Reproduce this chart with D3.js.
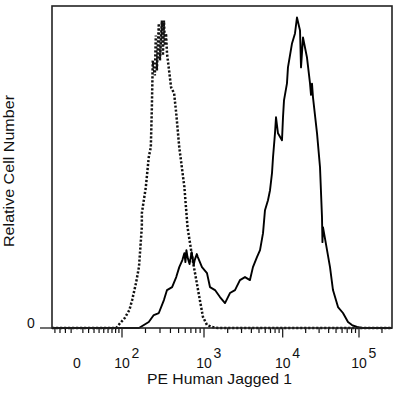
<!DOCTYPE html>
<html lang="en">
<head>
<meta charset="UTF-8">
<title>PE Human Jagged 1</title>
<script src="https://d3js.org/d3.v7.min.js"></script>
<style>
  body { margin: 0; background: #fff; }
  text { font-family: "Liberation Sans", Arial, sans-serif; fill: #111; }
</style>
</head>
<body>
<div id="chart"></div>
<script>
const width = 396, height = 396;

// isotype control (dotted): log10 intensity, relative count (%)
const isoExp = [1.912, 1.974, 2.037, 2.098, 2.134, 2.183, 2.220, 2.256, 2.256, 2.305, 2.341, 2.366, 2.378, 2.390,
  2.415, 2.427, 2.439, 2.463, 2.476, 2.500, 2.512, 2.524, 2.537, 2.549, 2.561, 2.610, 2.646, 2.671,
  2.707, 2.768, 2.805, 2.829, 2.866, 2.915, 2.951, 2.988, 3.038, 3.102, 3.178];
const isoCount = [0, 1.55, 3.11, 5.59, 8.70, 13.98, 18.94, 31.37, 35.71, 43.79, 53.11, 56.21, 67.70, 83.23,
  78.57, 90.99, 80.12, 94.72, 83.23, 95.65, 84.78, 95.65, 87.89, 91.61, 85.40, 74.84, 72.98, 66.77,
  56.21, 43.79, 31.37, 27.33, 21.12, 13.98, 8.70, 3.42, 0.93, 0.31, 0];

// Jagged 1 stained cells (solid)
const stainExp = [2.220, 2.341, 2.402, 2.463, 2.524, 2.561, 2.622, 2.671, 2.707, 2.744, 2.768, 2.780, 2.792,
  2.805, 2.829, 2.854, 2.878, 2.890, 2.915, 2.927, 2.976, 3.038, 3.076, 3.140, 3.203, 3.267, 3.330,
  3.394, 3.457, 3.521, 3.584, 3.622, 3.673, 3.712, 3.750, 3.775, 3.813, 3.839, 3.864, 3.877, 3.902,
  3.915, 3.940, 3.991, 4.004, 4.017, 4.056, 4.069, 4.122, 4.161, 4.187, 4.227, 4.240, 4.266, 4.318,
  4.358, 4.371, 4.384, 4.397, 4.450, 4.489, 4.515, 4.521, 4.528, 4.581, 4.620, 4.659, 4.725, 4.790,
  4.856, 4.908, 4.974, 5.04];
const stainCount = [0, 1.86, 4.04, 4.66, 8.70, 11.80, 12.73, 15.84, 18.94, 21.12, 23.29, 20.50, 24.22,
  22.05, 19.90, 23.60, 19.60, 21.12, 23.00, 22.05, 18.94, 17.08, 12.73, 11.80, 9.63, 7.76, 10.87,
  11.80, 14.91, 15.84, 14.91, 18.94, 22.05, 24.22, 29.50, 36.65, 39.75, 42.86, 48.14, 53.11, 60.56,
  65.53, 60.56, 58.39, 65.53, 70.81, 76.09, 81.06, 88.51, 91.61, 96.58, 92.55, 81.06, 90.37, 84.16,
  76.09, 72.50, 76.00, 71.74, 60.56, 50.00, 34.47, 26.70, 31.37, 24.22, 18.94, 11.80, 6.52, 4.66,
  1.86, 0.93, 0.31, 0];

const xTickVals = [0, 1e2, 1e3, 1e4, 1e5];
const xTickExp = [null, 2, 3, 4, 5];

const plot = {left: 52, right: 392, top: 6, bottom: 328};

// biexponential-like display: arcsinh transform, placed per decade
const cof = 58;
const T = v => Math.asinh(v / cof);
const x = d3.scaleLinear()
  .domain(xTickVals.map(T))
  .range([77, 122, 204, 282.7, 359]);
const xv = v => x(T(v));

const y = d3.scaleLinear().domain([0, 100]).range([plot.bottom, plot.top + 0.5]);

const svg = d3.select("#chart").append("svg")
  .attr("width", width).attr("height", height);

svg.append("rect").attr("width", width).attr("height", height).attr("fill", "#fff");

const xMin = x.invert(plot.left), xMax = x.invert(plot.right);
const vMin = cof * Math.sinh(xMin), vMax = cof * Math.sinh(xMax);

function series(expArr, cnt) {
  const pts = [[vMin, 0]];
  expArr.forEach((e, i) => pts.push([Math.pow(10, e), cnt[i]]));
  pts.push([vMax, 0]);
  return pts;
}

const line = d3.line().x(d => xv(d[0])).y(d => y(d[1]));

// minor / major ticks under the axis
const minor = [];
for (let k = 10; k < 100; k += 10) { minor.push(k); minor.push(-k); }
[100, 1000, 10000, 100000].forEach(dec => {
  for (let m = 2; m <= 9; m++) minor.push(dec * m);
});
const tickG = svg.append("g").attr("stroke", "#111").attr("stroke-width", 1.2);
tickG.selectAll(".minor")
  .data(minor.filter(v => xv(v) > plot.left + 1 && xv(v) < plot.right - 1))
  .join("line")
  .attr("x1", d => xv(d)).attr("x2", d => xv(d))
  .attr("y1", plot.bottom).attr("y2", plot.bottom + 5);
tickG.selectAll(".major")
  .data(xTickVals.slice(1))
  .join("line")
  .attr("x1", d => xv(d)).attr("x2", d => xv(d))
  .attr("y1", plot.bottom).attr("y2", plot.bottom + 9.5);
tickG.append("line")
  .attr("x1", plot.left - 12).attr("x2", plot.left)
  .attr("y1", y(0)).attr("y2", y(0));

// curves
svg.append("path")
  .datum(series(isoExp, isoCount))
  .attr("d", line)
  .attr("fill", "none")
  .attr("stroke", "#111")
  .attr("stroke-width", 2.5)
  .attr("stroke-dasharray", "2.2,1.8");

svg.append("path")
  .datum(series(stainExp, stainCount))
  .attr("d", line)
  .attr("fill", "none")
  .attr("stroke", "#000")
  .attr("stroke-width", 1.9)
  .attr("stroke-linejoin", "round");

// frame
svg.append("rect")
  .attr("x", plot.left).attr("y", plot.top)
  .attr("width", plot.right - plot.left).attr("height", plot.bottom - plot.top)
  .attr("fill", "none").attr("stroke", "#222").attr("stroke-width", 1.6);

// x tick labels
const lab = svg.append("g").attr("font-size", 14);
xTickVals.forEach((v, i) => {
  const t = lab.append("text")
    .attr("x", xv(v)).attr("y", 368)
    .attr("text-anchor", "middle");
  if (xTickExp[i] === null) {
    t.text("0");
  } else {
    t.text("10");
    lab.append("text")
      .attr("x", xv(v) + 9.5).attr("y", 358)
      .text(xTickExp[i]);
  }
});

// y tick label
lab.append("text").attr("x", 31).attr("y", 328).attr("text-anchor", "middle").text("0");

// axis titles
svg.append("text")
  .attr("x", 147).attr("y", 384)
  .attr("font-size", 15)
  .attr("textLength", 145).attr("lengthAdjust", "spacingAndGlyphs")
  .text("PE Human Jagged 1");

svg.append("text")
  .attr("transform", "translate(13.5,247) rotate(-90)")
  .attr("font-size", 14)
  .attr("textLength", 152).attr("lengthAdjust", "spacingAndGlyphs")
  .text("Relative Cell Number");
</script>
</body>
</html>
